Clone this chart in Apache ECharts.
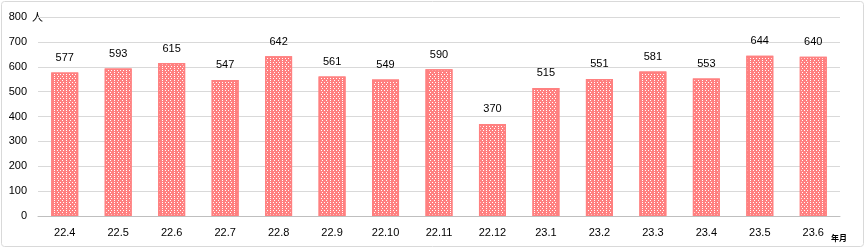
<!DOCTYPE html>
<html><head><meta charset="utf-8">
<script src="https://cdn.jsdelivr.net/npm/echarts@6/dist/echarts.min.js"></script>
<style>html,body{margin:0;padding:0;background:#fff}#c{width:866px;height:249px}</style>
</head><body><div id="c"></div>
<script>
const categories = ['22.4','22.5','22.6','22.7','22.8','22.9','22.10','22.11','22.12','23.1','23.2','23.3','23.4','23.5','23.6'];
const values = [577,593,615,547,642,561,549,590,370,515,551,581,553,644,640];
const yTicks = [0,100,200,300,400,500,600,700,800];

const chart = echarts.init(document.getElementById('c'), null, {renderer:'canvas'});
chart.setOption({
  animation:false,
  textStyle:{fontFamily:'Liberation Sans, Arial, sans-serif'},
  graphic:[
    {type:'rect', shape:{x:1.5,y:1.5,width:862,height:245,r:3}, style:{fill:'none',stroke:'#D9D9D9',lineWidth:1}},
    {type:'text', left:32, top:11, style:{text:'人', fontSize:11, fill:'#000', fontFamily:'Noto Sans CJK JP'}},
    {type:'text', left:831, top:234, style:{text:'年月', fontSize:8, fill:'#000', fontFamily:'Noto Sans CJK JP', fontWeight:'bold'}}
  ],
  grid:{left:38, right:26, top:17, bottom:33, containLabel:false},
  xAxis:{type:'category', data:categories,
    axisLine:{lineStyle:{color:'#BFBFBF'}}, axisTick:{show:false},
    axisLabel:{color:'#000', fontSize:11, margin:11}},
  yAxis:{type:'value', min:0, max:800, interval:100,
    axisLine:{show:false}, axisTick:{show:false},
    axisLabel:{color:'#000', fontSize:11, margin:11, formatter:v=>yTicks.includes(v)?String(v):''},
    splitLine:{lineStyle:{color:'#D9D9D9'}}},
  series:[{type:'bar', data:values, barWidth:27,
    itemStyle:{color:'#FF8080', borderColor:'#FF8080', borderWidth:1.5,
      decal:{symbol:'rect', symbolSize:1, color:'#FFFFFF', dashArrayX:[[1,2],[0,1.5,1,0.5]], dashArrayY:[1,1], rotation:0}},
    label:{show:true, position:'top', distance:9, color:'#000', fontSize:11}}]
});
</script></body></html>
